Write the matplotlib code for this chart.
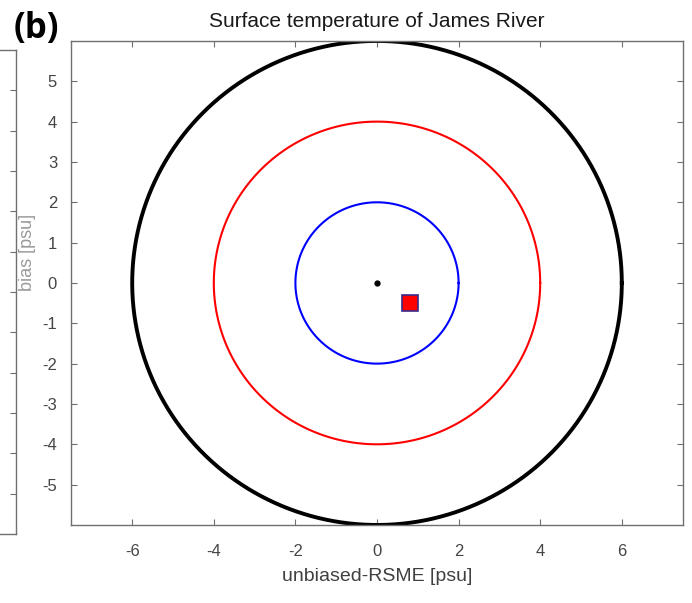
import numpy as np
import matplotlib.pyplot as plt

# target diagram data
radii = [6, 4, 2]
circle_colors = ['black', 'red', 'blue']
circle_widths = [2.8, 1.5, 1.5]
ref_x, ref_y = [0.0], [0.0]
model_x, model_y = [0.8], [-0.5]
ticks = [-6, -4, -2, 0, 2, 4, 6]
yticks = [-5, -4, -3, -2, -1, 0, 1, 2, 3, 4, 5]

plt.rcParams['font.family'] = ['Liberation Sans', 'DejaVu Sans']
plt.rcParams['axes.unicode_minus'] = False

fig = plt.figure(figsize=(6.92, 6.03), dpi=100)

# piece of the neighbouring panel on the left
axl = fig.add_axes([-0.05, 0.1144, 0.0731, 0.8027])
axl.set_xlim(0, 1)
axl.set_ylim(-6, 6)
axl.set_yticks(yticks)
axl.yaxis.tick_right()
axl.tick_params(axis='y', direction='in', length=4, color='#707070', labelright=False)
axl.set_xticks([])
for s in axl.spines.values():
    s.set_color('#707070')
    s.set_linewidth(1.0)

ax = fig.add_axes([0.1026, 0.1294, 0.8844, 0.8027])
theta = np.linspace(0, 2 * np.pi, 400)
for r, c, lw in zip(radii, circle_colors, circle_widths):
    ax.plot(r * np.cos(theta), r * np.sin(theta), color=c, lw=lw)
ax.plot(ref_x, ref_y, 'o', color='black', markersize=3.5)
ax.plot(model_x, model_y, 's', markerfacecolor='red', markeredgecolor='#3a2a8a',
        markeredgewidth=1.2, markersize=11)

ax.set_xlim(-7.5, 7.5)
ax.set_ylim(-6, 6)
ax.set_xticks(ticks)
ax.set_yticks(yticks)
ax.tick_params(direction='in', length=4, top=True, right=True,
               labelsize=12, labelcolor='#454545', color='#707070')
ax.tick_params(axis='x', pad=14)
ax.tick_params(axis='y', pad=10)
for s in ax.spines.values():
    s.set_color('#707070')
    s.set_linewidth(1.0)

ax.set_title('Surface temperature of James River', fontsize=15, color='#1a1a1a', pad=10)
ax.set_xlabel('unbiased-RSME [psu]', fontsize=14, color='#404040', labelpad=6)
fig.text(27 / 692, 1 - 252 / 603, 'bias [psu]', rotation=90, fontsize=13,
         color='#9a9a9a', ha='center', va='center')
fig.text(14 / 692, 1 - 29 / 603, '(b)', fontsize=25, fontweight='bold',
         ha='left', va='center', family=['Open Sans', 'DejaVu Sans'])

fig.savefig('out.png', dpi=100)
